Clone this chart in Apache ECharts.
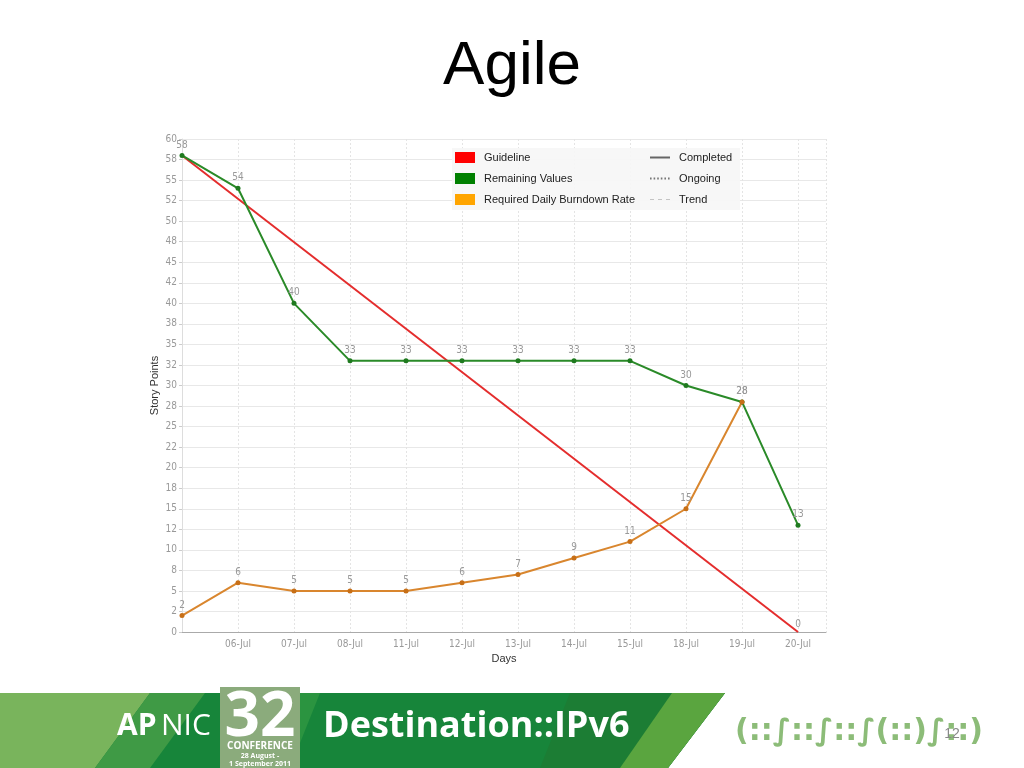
<!DOCTYPE html>
<html>
<head>
<meta charset="utf-8">
<style>html,body{margin:0;padding:0;background:#fff;}#main{width:1024px;height:768px;}</style>
<script src="https://cdn.jsdelivr.net/npm/echarts@6/dist/echarts.min.js"></script>
</head>
<body>
<div id="main"></div>
<script>
const categories = ['05-Jul','06-Jul','07-Jul','08-Jul','11-Jul','12-Jul','13-Jul','14-Jul','15-Jul','18-Jul','19-Jul','20-Jul'];
const shownDayLabels = ['','06-Jul','07-Jul','08-Jul','11-Jul','12-Jul','13-Jul','14-Jul','15-Jul','18-Jul','19-Jul','20-Jul'];
const guideline = [58, null, null, null, null, null, null, null, null, null, null, 0];
const remaining = [58, 54, 40, 33, 33, 33, 33, 33, 33, 30, 28, 13];
const burndownRate = [2, 6, 5, 5, 5, 6, 7, 9, 11, 15, 28, null];
const yTickLabels = ['0','2','5','8','10','12','15','18','20','22','25','28','30','32','35','38','40','42','45','48','50','52','55','58','60'];

const pairs = arr => arr.map((v, i) => [i, v]);
const chart = echarts.init(document.getElementById('main'));
const labelFont = 'Liberation Sans Narrow, DejaVu Sans Condensed, sans-serif';
const dataLabel = {show: true, position: 'top', distance: 3, color: '#999', fontSize: 10, fontFamily: labelFont};

const solidIcon = 'path://M0,0H20V2H0Z';
const dotIcon = 'path://M0,0h1.6v2h-1.6zM3.6,0h1.6v2h-1.6zM7.2,0h1.6v2h-1.6zM10.8,0h1.6v2h-1.6zM14.4,0h1.6v2h-1.6zM18,0h1.6v2h-1.6zM19.6,0h0.4v0.01h-0.4z';
const dashIcon = 'path://M0,0h4v1.2h-4zM8,0h4v1.2h-4zM16,0h4v1.2h-4z';

chart.setOption({
  animation: false,
  title: {
    text: 'Agile', left: 'center', top: 31,
    textStyle: {fontFamily: 'Liberation Sans, Arial, sans-serif', fontSize: 62, fontWeight: 'normal', color: '#000'}
  },
  grid: {left: 182, right: 198, top: 139, bottom: 136, containLabel: false},
  legend: [
    {
      orient: 'vertical', left: 450, top: 148, padding: [4, 5],
      icon: 'rect', itemWidth: 20, itemHeight: 11, itemGap: 10,
      textStyle: {fontFamily: 'Liberation Sans, Arial, sans-serif', fontSize: 11, color: '#222', padding: [0, 0, 0, 4]},
      selectedMode: false,
      data: [
        {name: 'Guideline', itemStyle: {color: '#ff0000'}},
        {name: 'Remaining Values', itemStyle: {color: '#008000'}},
        {name: 'Required Daily Burndown Rate', itemStyle: {color: '#ffa500'}}
      ]
    },
    {
      orient: 'vertical', left: 645, top: 148, padding: [4, 5],
      itemWidth: 20, itemHeight: 11, itemGap: 10,
      textStyle: {fontFamily: 'Liberation Sans, Arial, sans-serif', fontSize: 11, color: '#222', padding: [0, 0, 0, 4]},
      selectedMode: false,
      data: [
        {name: 'Completed', icon: solidIcon},
        {name: 'Ongoing', icon: dotIcon},
        {name: 'Trend', icon: dashIcon}
      ]
    }
  ],
  xAxis: {
    type: 'value', min: 0, max: 11.5, interval: 1,
    name: 'Days', nameLocation: 'middle', nameGap: 18,
    nameTextStyle: {fontFamily: 'Liberation Sans, Arial, sans-serif', fontSize: 11, color: '#333'},
    axisLine: {lineStyle: {color: '#aaa', width: 1}},
    axisTick: {show: false},
    axisLabel: {
      color: '#999', fontSize: 10, fontFamily: labelFont, margin: 7,
      formatter: v => (Number.isInteger(v) && shownDayLabels[v] !== undefined) ? shownDayLabels[v] : ''
    },
    splitLine: {show: true, lineStyle: {color: '#e4e4e4', type: [2, 2]}}
  },
  yAxis: {
    type: 'value', min: 0, max: 60, interval: 2.5,
    name: 'Story Points', nameLocation: 'middle', nameGap: 22, nameRotate: 90, nameMoveOverlap: false,
    nameTextStyle: {fontFamily: 'Liberation Sans, Arial, sans-serif', fontSize: 11, color: '#333'},
    axisLine: {show: true, lineStyle: {color: '#ddd'}},
    axisTick: {show: true, length: 3, lineStyle: {color: '#ccc'}},
    axisLabel: {
      color: '#999', fontSize: 10, fontFamily: labelFont, margin: 5,
      formatter: v => yTickLabels[Math.round(v / 2.5)]
    },
    splitLine: {lineStyle: {color: '#e8e8e8'}}
  },
  graphic: [
    {type: 'rect', left: 452, top: 148, z: 1, shape: {width: 288, height: 62}, style: {fill: 'rgba(246,246,246,0.92)'}},
    // footer banner
    {type: 'polygon', z: 1, shape: {points: [[0,693],[725,693],[668,768],[0,768]]}, style: {fill: '#17853a'}},
    {type: 'polygon', z: 1, shape: {points: [[0,693],[150,693],[95,768],[0,768]]}, style: {fill: '#79b45c'}},
    {type: 'polygon', z: 1, shape: {points: [[150,693],[205,693],[150,768],[95,768]]}, style: {fill: '#3f9a45'}},
    {type: 'polygon', z: 1, shape: {points: [[300,693],[320,693],[290,768],[270,768]]}, style: {fill: '#2b9440'}},
    {type: 'polygon', z: 1, shape: {points: [[570,693],[725,693],[668,768],[540,768]]}, style: {fill: '#1c7d34'}},
    {type: 'polygon', z: 1, shape: {points: [[672,693],[725,693],[668,768],[620,768]]}, style: {fill: '#5aa53f'}},
    {type: 'rect', z: 2, shape: {x: 220, y: 687, width: 80, height: 81}, style: {fill: '#8bab7c'}},
    {type: 'text', z: 3, style: {x: 117, y: 726, text: 'AP', fill: '#fff', font: 'bold 30px "Open Sans", Lato, sans-serif', textVerticalAlign: 'middle'}},
    {type: 'text', z: 3, style: {x: 161, y: 726, text: 'NIC', fill: '#fff', font: '30px "Open Sans", Lato, sans-serif', textVerticalAlign: 'middle'}},
    {type: 'text', z: 3, style: {x: 260, y: 718, text: '32', fill: '#fff', font: 'bold 62px "Open Sans", Lato, sans-serif', textAlign: 'center', textVerticalAlign: 'middle'}},
    {type: 'text', z: 3, style: {x: 260, y: 746, text: 'CONFERENCE', fill: '#fff', font: 'bold 10px "Open Sans", sans-serif', textAlign: 'center', textVerticalAlign: 'middle'}},
    {type: 'text', z: 3, style: {x: 260, y: 756, text: '28 August -', fill: '#fff', font: 'bold 7px "Open Sans", sans-serif', textAlign: 'center', textVerticalAlign: 'middle'}},
    {type: 'text', z: 3, style: {x: 260, y: 764, text: '1 September 2011', fill: '#fff', font: 'bold 7px "Open Sans", sans-serif', textAlign: 'center', textVerticalAlign: 'middle'}},
    {type: 'text', z: 3, style: {x: 323, y: 727, text: 'Destination::IPv6', fill: '#fff', font: 'bold 36px "Open Sans", Lato, sans-serif', textVerticalAlign: 'middle'}},
    {type: 'text', z: 3, style: {x: 735, y: 732, text: '(::∫::∫::∫(::)∫::)', fill: '#8cbc78', font: 'bold 30px "DejaVu Sans", sans-serif', textVerticalAlign: 'middle'}},
    {type: 'text', z: 4, style: {x: 952, y: 734, text: '12', fill: '#888', font: '14px "Liberation Sans", sans-serif', textAlign: 'center', textVerticalAlign: 'middle'}}
  ],
  series: [
    {
      name: 'Guideline', type: 'line', data: pairs(guideline), connectNulls: true,
      symbol: 'circle', symbolSize: 0.1, z: 2,
      lineStyle: {color: '#e42d2d', width: 2}, itemStyle: {color: '#e42d2d'},
      label: {...dataLabel, formatter: p => (p.dataIndex === guideline.length - 1 ? String(p.value[1]) : '')}
    },
    {
      name: 'Remaining Values', type: 'line', data: pairs(remaining), z: 3,
      symbol: 'circle', symbolSize: 5,
      lineStyle: {color: '#2a8a28', width: 2}, itemStyle: {color: '#1f7a1f'},
      label: {...dataLabel, formatter: p => String(p.value[1])}
    },
    {
      name: 'Required Daily Burndown Rate', type: 'line', data: pairs(burndownRate), z: 3,
      symbol: 'circle', symbolSize: 5,
      lineStyle: {color: '#d9862e', width: 2}, itemStyle: {color: '#c76f17'},
      label: {...dataLabel, formatter: p => String(p.value[1])}
    },
    {name: 'Completed', type: 'line', data: [], symbol: 'none', lineStyle: {color: '#666', width: 2}, itemStyle: {color: '#666'}},
    {name: 'Ongoing', type: 'line', data: [], symbol: 'none', lineStyle: {color: '#777', width: 2}, itemStyle: {color: '#777'}},
    {name: 'Trend', type: 'line', data: [], symbol: 'none', lineStyle: {color: '#bbb', width: 1}, itemStyle: {color: '#c4c4c4'}}
  ]
});
</script>
</body>
</html>
